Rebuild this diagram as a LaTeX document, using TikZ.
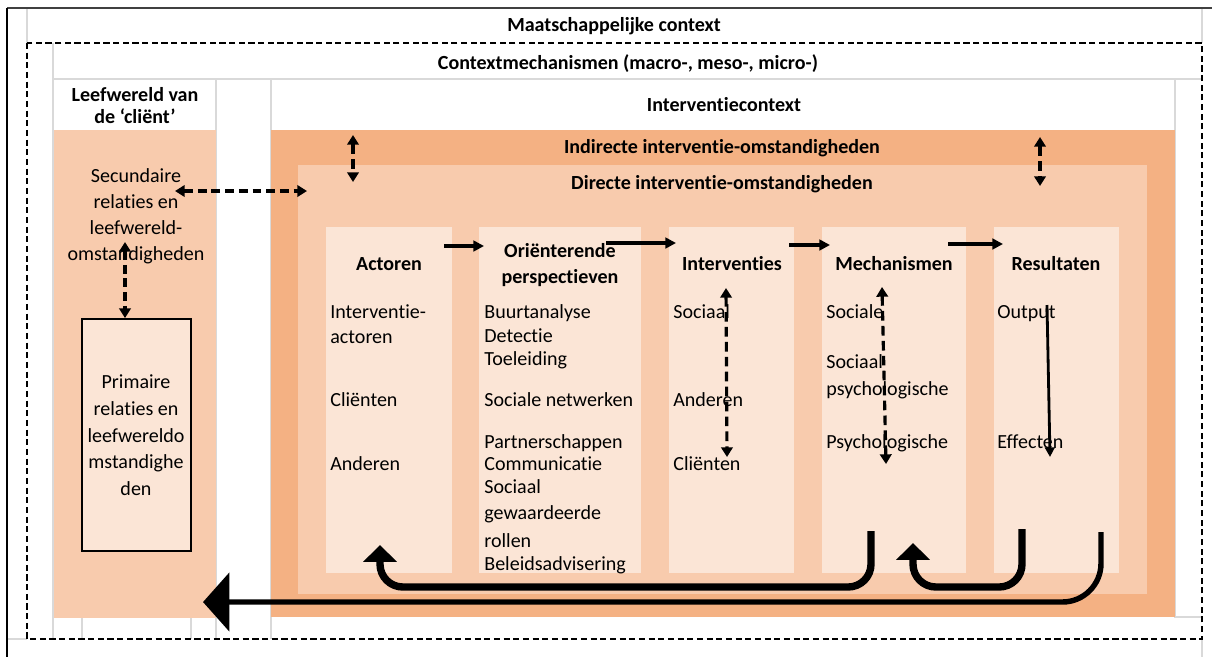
\documentclass[tikz,border=0pt]{standalone}
\usepackage{fontspec}
\setmainfont{Carlito}[Ligatures=NoCommon]
\usetikzlibrary{arrows.meta}

\definecolor{accentdark}{HTML}{F4B183}
\definecolor{accentmid}{HTML}{F8CBAD}
\definecolor{accentlight}{HTML}{FBE5D6}
\definecolor{gridgray}{HTML}{D9D9D9}

\tikzset{
  txt/.style={font=\fontsize{11.4}{13.7}\selectfont, inner sep=0pt, anchor=base},
  txtl/.style={txt, anchor=base west},
  hdr/.style={txt, font=\fontsize{11.4}{13.7}\selectfont\bfseries},
  grid line/.style={draw=gridgray, line width=0.6pt},
  dashed arrow/.style={line width=2.2pt, dash pattern=on 5pt off 2.8pt, {Triangle[length=5.5pt,width=6.5pt]}-{Triangle[length=5.5pt,width=6.5pt]}},
  thin dashed arrow/.style={dashed arrow, line width=1.8pt, dash pattern=on 5.5pt off 3pt},
  flow arrow/.style={line width=1.9pt, -{Triangle[length=6pt,width=6pt]}},
  loop arrow/.style={line width=4.2pt, rounded corners=13pt, -{Triangle[length=9.6pt,width=18.7pt]}},
  return arrow/.style={line width=3.1pt, rounded corners=22pt, -{Triangle[length=15pt,width=33pt]}},
}

\begin{document}
\begin{tikzpicture}[x=0.02cm, y=-0.02cm]
\useasboundingbox (0,0) rectangle (1212,657);
% table grid
\draw[grid line] (27,8) -- (27,43);
\draw[grid line] (1202,8) -- (1202,43);
\draw[grid line] (53,43) -- (53,639);
\draw[grid line] (53,79) -- (1202,79);
\draw[grid line] (216,79) -- (216,639);
\draw[grid line] (271,79) -- (271,639);
\draw[grid line] (1175,79) -- (1175,617) -- (1202,617);
\draw[grid line] (82,618) -- (82,639);
\draw[grid line] (191,618) -- (191,639);
\draw[grid line] (7,639) -- (27,639);
\draw[grid line] (1202,639) -- (1202,657);
\draw[line width=0.8pt, draw=black!75] (7,8) -- (1212,8);
\draw[line width=0.8pt] (7,8) -- (7,657);
\draw[line width=1pt, dash pattern=on 3.5pt off 2pt] (27,43) rectangle (1202,639);
% coloured areas
\fill[accentmid] (54,130) rectangle (216,618);
\fill[accentdark] (271,130) rectangle (1175,617);
\fill[accentmid] (298,165) rectangle (1147,594);
\fill[accentlight] (326,227) rectangle (452,573);
\fill[accentlight] (479,227) rectangle (641,573);
\fill[accentlight] (669,227) rectangle (794,573);
\fill[accentlight] (822,227) rectangle (966,573);
\fill[accentlight] (994,227) rectangle (1119,573);
\node[draw=black, line width=1.1pt, fill=accentlight, minimum width=2.18cm, minimum height=4.64cm, inner sep=0pt] (PrimaryBox) at (136.5,435) {};
% headings
\node[hdr] (MaatschappelijkeContext) at (614,31) {Maatschappelijke context};
\node[hdr] (Contextmechanismen) at (628,69) {Contextmechanismen (macro-, meso-, micro-)};
\node[hdr] (LeefwereldL1) at (135,101) {Leefwereld van};
\node[hdr] (LeefwereldL2) at (135,123) {de ‘cliënt’};
\node[hdr] (Interventiecontext) at (724,111) {Interventiecontext};
\node[hdr] (Indirecte) at (722,153) {Indirecte interventie-omstandigheden};
\node[hdr] (Directe) at (722,189) {Directe interventie-omstandigheden};
% leefwereld
\node[txt] (SecundaireL1) at (136,182) {Secundaire};
\node[txt] (SecundaireL2) at (136,208) {relaties en};
\node[txt] (SecundaireL3) at (136,234) {leefwereld-};
\node[txt] (SecundaireL4) at (136,260) {omstandigheden};
\node[txt] (PrimaireL1) at (136,388) {Primaire};
\node[txt] (PrimaireL2) at (136,415) {relaties en};
\node[txt] (PrimaireL3) at (136,442) {leefwereldo};
\node[txt] (PrimaireL4) at (136,468) {mstandighe};
\node[txt] (PrimaireL5) at (136,495) {den};
% column titles
\node[hdr] (ActorenT) at (389,270) {Actoren};
\node[hdr] (OrienterendeT1) at (560,257) {Oriënterende};
\node[hdr] (OrienterendeT2) at (560,283) {perspectieven};
\node[hdr] (InterventiesT) at (732,270) {Interventies};
\node[hdr] (MechanismenT) at (894,270) {Mechanismen};
\node[hdr] (ResultatenT) at (1056,270) {Resultaten};
% column items
\node[txtl] (ActorenI1) at (330,318) {Interventie-};
\node[txtl] (ActorenI2) at (330,343) {actoren};
\node[txtl] (ActorenI3) at (330,406) {Cliënten};
\node[txtl] (ActorenI4) at (330,470) {Anderen};
\node[txtl] (OrienterendeI1) at (484,318) {Buurtanalyse};
\node[txtl] (OrienterendeI2) at (484,342) {Detectie};
\node[txtl] (OrienterendeI3) at (484,365) {Toeleiding};
\node[txtl] (OrienterendeI4) at (484,406) {Sociale netwerken};
\node[txtl] (OrienterendeI5) at (484,448) {Partnerschappen};
\node[txtl] (OrienterendeI6) at (484,470) {Communicatie};
\node[txtl] (OrienterendeI7) at (484,493) {Sociaal};
\node[txtl] (OrienterendeI8) at (484,519) {gewaardeerde};
\node[txtl] (OrienterendeI9) at (484,547) {rollen};
\node[txtl] (OrienterendeI10) at (484,570) {Beleidsadvisering};
\node[txtl] (InterventiesI1) at (673,318) {Sociaal};
\node[txtl] (InterventiesI2) at (673,406) {Anderen};
\node[txtl] (InterventiesI3) at (673,470) {Cliënten};
\node[txtl] (MechanismenI1) at (826,318) {Sociale};
\node[txtl] (MechanismenI2) at (826,368) {Sociaal};
\node[txtl] (MechanismenI3) at (826,395) {psychologische};
\node[txtl] (MechanismenI4) at (826,448) {Psychologische};
\node[txtl] (ResultatenI1) at (997,318) {Output};
\node[txtl] (ResultatenI2) at (997,448) {Effecten};
% arrow ends
\coordinate (SecArrowL) at (175,191);
\coordinate (SecArrowR) at (307,191);
\coordinate (SecArrowTop) at (125,242);
\coordinate (IndirectL1) at (353,135);
\coordinate (IndirectL2) at (353,182);
\coordinate (IndirectR1) at (1040,137);
\coordinate (IndirectR2) at (1040,186);
\coordinate (Flow1a) at (444,246);
\coordinate (Flow1b) at (484,246);
\coordinate (Flow2a) at (606,243);
\coordinate (Flow2b) at (676,243);
\coordinate (Flow3a) at (789,245);
\coordinate (Flow3b) at (830,245);
\coordinate (Flow4a) at (948,244);
\coordinate (Flow4b) at (1003,244);
\coordinate (InterventiesTop) at (726,288);
\coordinate (InterventiesBot) at (727,457);
\coordinate (MechanismenTop) at (882,287);
\coordinate (MechanismenBot) at (886,464);
\coordinate (ResultatenTop) at (1047,305);
\coordinate (ResultatenBot) at (1050,457);
\coordinate (MechFoot) at (871,531);
\coordinate (ActorenTip) at (380,545);
\coordinate (ResFootA) at (1022,529);
\coordinate (MechTip) at (913,543);
\coordinate (ResFootB) at (1101,532);
\coordinate (LeftTip) at (203,602);
\coordinate (RailA) at (0,587);
\coordinate (RailB) at (0,602);
% arrows
\draw[dashed arrow] (SecArrowL) -- (SecArrowR);
\draw[dashed arrow] (SecArrowTop) -- (SecArrowTop |- PrimaryBox.north);
\draw[thin dashed arrow] (IndirectL1) -- (IndirectL2);
\draw[thin dashed arrow] (IndirectR1) -- (IndirectR2);
\draw[flow arrow] (Flow1a) -- (Flow1b);
\draw[flow arrow] (Flow2a) -- (Flow2b);
\draw[flow arrow] (Flow3a) -- (Flow3b);
\draw[flow arrow] (Flow4a) -- (Flow4b);
\draw[thin dashed arrow] (InterventiesTop) -- (InterventiesBot);
\draw[thin dashed arrow] (MechanismenTop) -- (MechanismenBot);
\draw[line width=1.6pt, -{Triangle[length=5.5pt,width=5.5pt]}] (ResultatenTop) -- (ResultatenBot);
\draw[loop arrow] (MechFoot) -- (MechFoot |- RailA) -- (ActorenTip |- RailA) -- (ActorenTip);
\draw[loop arrow] (ResFootA) -- (ResFootA |- RailA) -- (MechTip |- RailA) -- (MechTip);
\draw[return arrow] (ResFootB) -- (ResFootB |- RailB) -- (LeftTip);
\end{tikzpicture}
\end{document}
